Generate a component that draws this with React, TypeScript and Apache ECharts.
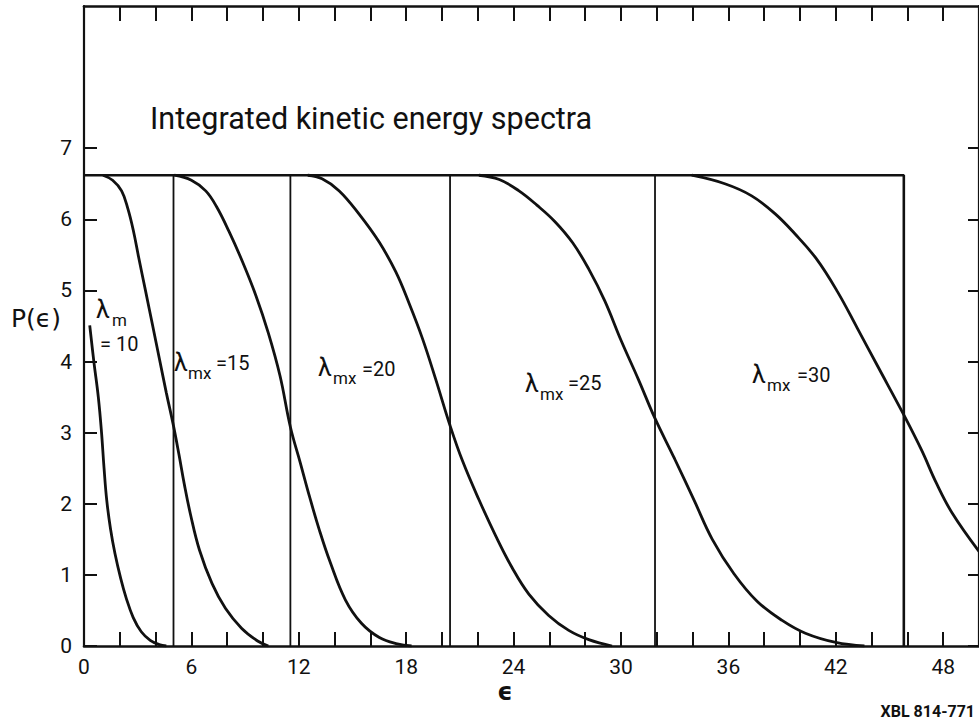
import React, { useEffect, useRef } from "react";
import * as echarts from "echarts";

// ---- axis ticks / labels ----
const xLabelValues = [0, 6, 12, 18, 24, 30, 36, 42, 48];
const xTickValues = [0, 2, 4, 6, 8, 10, 12, 14, 16, 18, 20, 22, 24, 26, 28, 30, 32, 34, 36, 38, 40, 42, 44, 46, 48, 50];
const yLabelValues = [0, 1, 2, 3, 4, 5, 6, 7];

// ---- box frame (plateau and boundaries) ----
const plateau = 6.62;
const boundaries = [5.0, 11.53, 20.45, 31.9];
const lastBoundary = 45.8;

// ---- curves [epsilon, P] ----
const curveL10 = [
  [0.32, 4.51], [0.55, 4.0], [0.8, 3.5], [0.98, 3.0], [1.12, 2.5], [1.27, 2.05],
  [1.48, 1.65], [1.73, 1.3], [2.05, 0.95], [2.35, 0.68], [2.75, 0.4], [3.2, 0.2],
  [3.7, 0.08], [4.2, 0.02], [4.6, 0.0],
];
const curveL15 = [
  [1.06, 6.62], [1.6, 6.55], [2.1, 6.4], [2.45, 6.15], [2.75, 5.85], [3.05, 5.47],
  [3.45, 4.98], [3.84, 4.5], [4.22, 4.03], [4.6, 3.56], [4.98, 3.12], [5.3, 2.7],
  [5.6, 2.28], [5.95, 1.85], [6.45, 1.35], [7.15, 0.88], [7.9, 0.53], [8.8, 0.25],
  [9.7, 0.07], [10.3, 0.0],
];
const curveL20 = [
  [5.05, 6.62], [6.0, 6.55], [6.8, 6.4], [7.4, 6.18], [8.1, 5.83], [8.86, 5.4],
  [9.6, 4.93], [10.3, 4.4], [10.95, 3.8], [11.53, 3.08], [12.08, 2.58], [12.6, 2.1],
  [13.15, 1.63], [13.75, 1.18], [14.6, 0.65], [15.5, 0.32], [16.5, 0.12], [17.5, 0.03], [18.3, 0.0],
];
const curveL25 = [
  [12.5, 6.62], [13.3, 6.57], [14.26, 6.4], [15.38, 6.07], [16.49, 5.68], [17.42, 5.26],
  [18.16, 4.82], [18.9, 4.33], [19.65, 3.75], [20.45, 3.1], [21.15, 2.6], [22.06, 2.06],
  [23.0, 1.55], [23.92, 1.1], [24.85, 0.73], [25.96, 0.43], [27.08, 0.22], [28.2, 0.09], [29.5, 0.0],
];
const curveL30 = [
  [22.06, 6.62], [23.2, 6.56], [24.3, 6.4], [25.3, 6.2], [26.3, 5.97], [27.3, 5.67],
  [28.2, 5.3], [29.1, 4.85], [30.0, 4.3], [30.97, 3.75], [31.9, 3.2], [33.0, 2.63],
  [34.1, 2.04], [35.1, 1.5], [36.3, 1.02], [37.6, 0.63], [39.0, 0.36], [40.3, 0.18],
  [42.0, 0.05], [43.6, 0.0],
];
const curveL35 = [
  [33.95, 6.62], [35.8, 6.5], [37.3, 6.33], [38.6, 6.08], [39.7, 5.8], [40.9, 5.45],
  [42.1, 4.98], [43.2, 4.47], [44.35, 3.93], [45.8, 3.25], [46.8, 2.75], [47.6, 2.3],
  [48.5, 1.87], [50.0, 1.33],
];
const curves = [curveL10, curveL15, curveL20, curveL25, curveL30, curveL35];

// ---- texts ----
const titleText = "Integrated kinetic energy spectra";
const yName = "P(ϵ)";
const xName = "ϵ";
const refCode = "XBL 814-771";
const lambdaSubs = ["m", "mx", "mx", "mx", "mx"];
const lambdaValues = ["= 10", "=15", "=20", "=25", "=30"];

const FONT = "Roboto, 'Liberation Sans', sans-serif";
const BLACK = "#111";

export default function App() {
  const ref = useRef<HTMLDivElement>(null);

  useEffect(() => {
    if (!ref.current) return;
    const chart = echarts.init(ref.current, null, { renderer: "svg" });

    const curveSeries = curves.map((c, i) => ({
      name: "c" + i,
      type: "line",
      data: c,
      showSymbol: false,
      smooth: 0.4,
      lineStyle: { color: BLACK, width: 2.8 },
      silent: true,
      z: 3,
    }));

    const boundarySeries = boundaries.map((b, i) => ({
      name: "b" + i,
      type: "line",
      data: [[b, 0], [b, plateau]],
      showSymbol: false,
      lineStyle: { color: BLACK, width: 1.8 },
      silent: true,
      z: 2,
    }));

    const frameSeries = {
      name: "frame",
      type: "line",
      data: [[0, plateau], [lastBoundary, plateau], [lastBoundary, 0]],
      showSymbol: false,
      lineStyle: { color: BLACK, width: 2.6 },
      silent: true,
      z: 2,
    };

    // λ label parts: [lambdaLeft, lambdaCenterY, subLeft, subCenterY, valLeft, valCenterY]
    const lambdaPos = [
      [96, 309, 112, 320, 100, 344],
      [174, 362, 188, 373, 216, 363],
      [318, 367, 333, 378, 362, 369],
      [525, 383, 540, 394, 568, 383],
      [752, 374, 767, 385, 797, 375],
    ];
    const lambdaGraphics: any[] = [];
    lambdaPos.forEach((p, i) => {
      lambdaGraphics.push({
        type: "text", x: p[0], y: p[1],
        style: { text: "λ", fontSize: 25, fontFamily: FONT, fill: BLACK, verticalAlign: "middle", align: "left" },
      });
      lambdaGraphics.push({
        type: "text", x: p[2], y: p[3],
        style: { text: lambdaSubs[i], fontSize: 17, fontFamily: FONT, fill: BLACK, verticalAlign: "middle", align: "left" },
      });
      lambdaGraphics.push({
        type: "text", x: p[4], y: p[5],
        style: { text: lambdaValues[i], fontSize: 20, fontFamily: FONT, fill: BLACK, verticalAlign: "middle", align: "left" },
      });
    });

    const axisCommon = {
      type: "value",
      splitLine: { show: false },
    };

    chart.setOption({
      animation: false,
      backgroundColor: "#fff",
      grid: { left: 84, right: 0, top: 6, bottom: 82, containLabel: false, outerBoundsMode: "none" },
      xAxis: [
        {
          ...axisCommon,
          min: 0, max: 50, interval: 2, position: "bottom",
          axisLine: { onZero: false, lineStyle: { color: BLACK, width: 2.6 } },
          axisTick: { inside: true, length: 14, lineStyle: { color: BLACK, width: 2 }, customValues: xTickValues },
          axisLabel: {
            customValues: xLabelValues,
            formatter: (v: number) => (v % 6 === 0 ? String(v) : ""),
            color: BLACK, fontSize: 21, fontFamily: FONT, margin: 10,
          },
        },
        {
          ...axisCommon,
          min: 0, max: 50, interval: 2, position: "top",
          axisLine: { onZero: false, lineStyle: { color: BLACK, width: 2.6 } },
          axisTick: { inside: true, length: 15, lineStyle: { color: BLACK, width: 2 }, customValues: xTickValues },
          axisLabel: { show: false },
        },
      ],
      yAxis: [
        {
          ...axisCommon,
          min: 0, max: 9, interval: 1, position: "left",
          axisLine: { onZero: false, lineStyle: { color: BLACK, width: 2.2 } },
          axisTick: { inside: true, length: 13, lineStyle: { color: BLACK, width: 2 }, customValues: yLabelValues },
          axisLabel: {
            customValues: yLabelValues,
            formatter: (v: number) => (v <= 7 ? String(v) : ""),
            color: BLACK, fontSize: 21, fontFamily: FONT, margin: 12,
          },
        },
        {
          ...axisCommon,
          min: 0, max: 9, interval: 1, position: "right",
          axisLine: { onZero: false, lineStyle: { color: BLACK, width: 2.2 } },
          axisTick: { inside: true, length: 11, lineStyle: { color: BLACK, width: 2 }, customValues: yLabelValues },
          axisLabel: { show: false },
        },
      ],
      series: [...curveSeries, ...boundarySeries, frameSeries],
      graphic: [
        {
          type: "text", x: 150, y: 118,
          style: { text: titleText, fontSize: 30.5, fontFamily: FONT, fill: BLACK, verticalAlign: "middle", align: "left" },
        },
        {
          type: "text", x: 11, y: 318,
          style: { text: yName, fontSize: 25, fontFamily: "'DejaVu Sans', sans-serif", fill: BLACK, verticalAlign: "middle", align: "left" },
        },
        {
          type: "text", x: 505, y: 692,
          style: { text: xName, fontSize: 24, fontWeight: "bold", fontFamily: "'DejaVu Sans', sans-serif", fill: BLACK, verticalAlign: "middle", align: "center" },
        },
        {
          type: "text", x: 975, y: 711,
          style: { text: refCode, fontSize: 16, fontWeight: "bold", fontFamily: FONT, fill: BLACK, verticalAlign: "middle", align: "right" },
        },
        ...lambdaGraphics,
      ],
    });

    return () => chart.dispose();
  }, []);

  return (
    <div
      ref={ref}
      style={{ position: "absolute", left: 0, top: 0, width: 979, height: 728, background: "#fff" }}
    />
  );
}
